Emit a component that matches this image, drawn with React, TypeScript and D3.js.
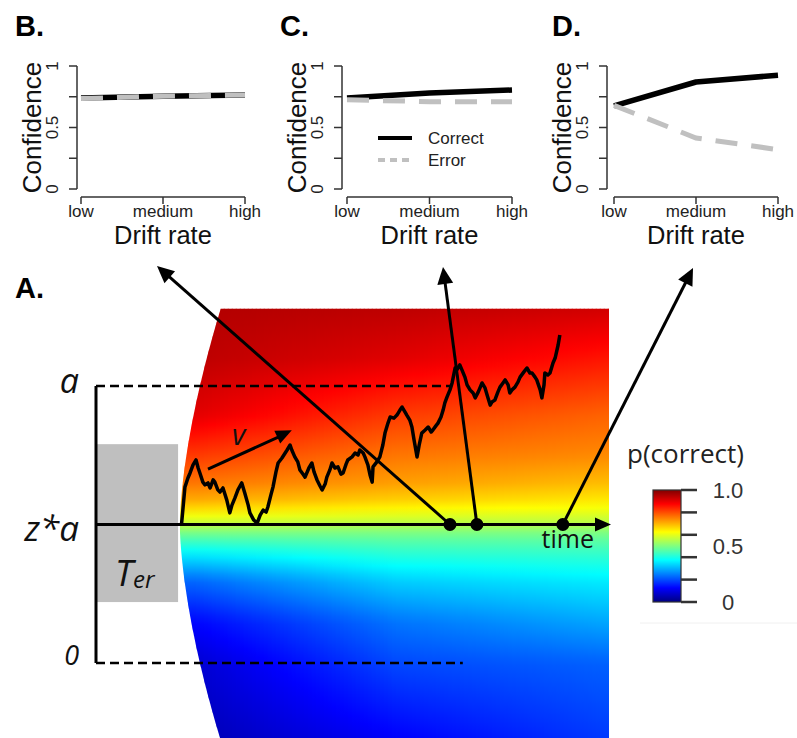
import React from 'react';
import * as d3 from 'd3';

// ---------------- Panels B–D ----------------
const driftLevels = ['low', 'medium', 'high'];
const panelNames = ['B.', 'C.', 'D.'];
const correctB = [0.74, 0.755, 0.765];
const errorB = [0.735, 0.755, 0.765];
const correctC = [0.74, 0.78, 0.805];
const errorC = [0.725, 0.71, 0.71];
const correctD = [0.675, 0.87, 0.925];
const errorD = [0.68, 0.415, 0.32];
const confTicks = [0, 0.25, 0.5, 0.75, 1];
const confTickLabels = ['0', '', '0.5', '', '1'];
const legendLabels = ['Correct', 'Error'];

// ---------------- Panel A ----------------
// time in ms, evidence in % of boundary a
const trajT = [200, 208, 215, 220, 227, 234, 239, 243, 250, 255, 262, 267, 274, 278, 285, 290, 297, 306, 313, 318, 325, 332, 341, 348, 356, 360, 369, 377, 384, 391, 398, 402, 409, 414, 421, 426, 435, 447, 454, 458, 465, 472, 477, 484, 489, 498, 505, 510, 517, 524, 529, 536, 540, 547, 552, 559, 566, 573, 578, 585, 589, 599, 606, 613, 617, 625, 629, 636, 641, 646, 648, 657, 664, 671, 676, 683, 688, 697, 704, 711, 716, 723, 727, 734, 739, 744, 751, 756, 762, 770, 777, 784, 788, 795, 800, 807, 812, 816, 821, 828, 833, 840, 844, 851, 856, 863, 868, 875, 882, 887, 894, 903, 910, 917, 922, 926, 933, 940, 945, 952, 957, 964, 968, 973, 980, 987, 992, 1001, 1008, 1015, 1020, 1027, 1031, 1039, 1043, 1048, 1050, 1057, 1062, 1069, 1074, 1081, 1085];
const trajEv = [50, 63.5, 66.8, 68.6, 71.5, 73.3, 70.4, 68.6, 65.3, 64.3, 65, 63.2, 66.1, 65.3, 62.5, 61.7, 63.2, 58.8, 54.2, 57, 59.6, 62.5, 65, 61.4, 57, 54.2, 51.6, 50.5, 53.4, 55.2, 54.5, 56.3, 60.6, 63.5, 69, 72.2, 74, 76.9, 78.7, 76.9, 74.4, 72.6, 69.7, 68.2, 67.1, 70.4, 72.2, 69, 66.1, 63.9, 62.5, 64.6, 67.1, 69.7, 72.2, 70.4, 70.8, 68.2, 68.6, 71.8, 73.3, 74.4, 75.8, 75.1, 76.9, 75.8, 74.4, 71.5, 67.9, 65.3, 70.8, 72.6, 74.4, 78.7, 83, 86.6, 88.8, 88.4, 89.5, 91.3, 92.4, 90.6, 89.5, 87.7, 85.2, 80.5, 74.4, 78.7, 83, 84.1, 85.2, 83.4, 84.1, 85.6, 86.6, 88.8, 91.3, 93.9, 96, 98.6, 101.1, 106.5, 105.8, 107.6, 105.8, 103.2, 100.4, 98.6, 97.5, 95.7, 97.8, 101.1, 99.3, 95.7, 93.1, 94.2, 94.9, 97.8, 99.6, 101.1, 102.2, 100.4, 97.5, 98.6, 99.6, 101.4, 103.2, 105.1, 106.5, 104.7, 104.7, 103.2, 102.2, 98.6, 95.7, 100.4, 104.7, 104, 104.7, 108.3, 110.1, 114.8, 118.4];
const rtT = [828, 891, 1092];
const boundEv = [100, 50, 0];
const boundLabels = ['a', 'z*a', '0'];
const terMs = 196;
const heatEv = [128, 110, 90, 75, 65, 58, 50, 46, 40, 30, 15, 0, -28];
const heatProfileT = [230, 700, 1200];
const heatEarly = [0.95, 0.94, 0.905, 0.82, 0.76, 0.7, 0.56, 0.47, 0.37, 0.23, 0.13, 0.08, 0.05];
const heatMid = [0.94, 0.905, 0.82, 0.76, 0.72, 0.665, 0.55, 0.48, 0.42, 0.33, 0.24, 0.195, 0.12];
const heatLate = [0.92, 0.855, 0.78, 0.74, 0.69, 0.64, 0.55, 0.48, 0.43, 0.36, 0.29, 0.22, 0.18];
const colorbarTicks = [0, 0.2, 0.4, 0.6, 0.8, 1];
const colorbarLabelValues = [1, 0.5, 0];
const colorbarLabelText = ['1.0', '0.5', '0'];

function jet(v: number) {
  const c = (x: number) => Math.max(0, Math.min(1, x));
  const r = c(1.5 - Math.abs(4 * v - 3));
  const g = c(1.5 - Math.abs(4 * v - 2));
  const b = c(1.5 - Math.abs(4 * v - 1));
  return d3.rgb(r * 255, g * 255, b * 255).formatHex();
}

function arrowHead(x1: number, y1: number, x2: number, y2: number, len = 16, hw = 7) {
  const a = Math.atan2(y2 - y1, x2 - x1);
  const bx = x2 - len * Math.cos(a), by = y2 - len * Math.sin(a);
  const px = -Math.sin(a) * hw, py = Math.cos(a) * hw;
  return `M${x2},${y2}L${bx + px},${by + py}L${bx - px},${by - py}Z`;
}

const ARIAL = 'Liberation Sans, Arial, sans-serif';
const SANS = 'Open Sans, sans-serif';

function ConfPanel({ idx, axisX, xr, correct, error, legend }: any) {
  const x = d3.scalePoint<string>().domain(driftLevels).range(xr);
  const y = d3.scaleLinear().domain([0, 1]).range([189, 66]);
  const line = d3.line<number>().x((_, i) => x(driftLevels[i])!).y((d) => y(d));
  const xAxisY = 197;
  const labelX = [15, 280, 552][idx];
  return (
    <g>
      <text x={labelX} y={36} fontFamily={ARIAL} fontWeight="bold" fontSize={29}>{panelNames[idx]}</text>
      <line x1={axisX} x2={axisX} y1={y(0)} y2={y(1)} stroke="#333" strokeWidth={1.5} />
      {confTicks.map((t, i) => (
        <g key={i}>
          <line x1={axisX - 8} x2={axisX} y1={y(t)} y2={y(t)} stroke="#333" strokeWidth={1.5} />
          {confTickLabels[i] && (
            <text transform={`translate(${axisX - 19},${y(t)}) rotate(-90)`} textAnchor="middle" fontFamily={ARIAL} fontSize={17} fill="#222">{confTickLabels[i]}</text>
          )}
        </g>
      ))}
      <line x1={xr[0]} x2={xr[1]} y1={xAxisY} y2={xAxisY} stroke="#333" strokeWidth={1.5} />
      {driftLevels.map((d) => (
        <g key={d}>
          <line x1={x(d)} x2={x(d)} y1={xAxisY} y2={xAxisY + 7} stroke="#333" strokeWidth={1.5} />
          <text x={x(d)} y={216.5} textAnchor="middle" fontFamily={ARIAL} fontSize={17} fill="#222">{d}</text>
        </g>
      ))}
      <text x={x('medium')} y={243.5} textAnchor="middle" fontFamily={ARIAL} fontSize={25.5} fill="#111">Drift rate</text>
      <text transform={`translate(${axisX - 36},127.5) rotate(-90)`} textAnchor="middle" fontFamily={ARIAL} fontSize={26} fill="#111">Confidence</text>
      <path d={line(correct)!} fill="none" stroke="#000" strokeWidth={5.5} strokeLinejoin="round" />
      <path d={line(error)!} fill="none" stroke="#c0c0c0" strokeWidth={5} strokeDasharray="22 14" />
      {legend && (
        <g>
          <line x1={378} x2={412} y1={138} y2={138} stroke="#000" strokeWidth={4} />
          <line x1={378} x2={412} y1={160} y2={160} stroke="#c0c0c0" strokeWidth={4} strokeDasharray="7 5" />
          <text x={428} y={138} dy="0.35em" fontFamily={ARIAL} fontSize={17} fill="#222">{legendLabels[0]}</text>
          <text x={428} y={160} dy="0.35em" fontFamily={ARIAL} fontSize={17} fill="#222">{legendLabels[1]}</text>
        </g>
      )}
    </g>
  );
}

export default function App() {
  const xT = d3.scaleLinear().domain([0, 1200]).range([96, 609]);
  const yEv = d3.scaleLinear().domain([0, 100]).range([663, 386]);
  const zY = yEv(50);

  // heatmap
  const profiles = [heatEarly, heatMid, heatLate].map((p) => d3.scaleLinear().domain(heatEv).range(p).clamp(true));
  const pCorrect = (t: number, ev: number) =>
    d3.scaleLinear().domain(heatProfileT).range(profiles.map((s) => s(ev))).clamp(true)(t);
  const evTop = 128, evBot = -28;
  const yTop = yEv(evTop), yBot = yEv(evBot);
  const evSamples = d3.range(evTop, evBot - 0.01, -3);
  const colX = d3.range(xT(terMs), xT(1200), 4);
  const columns = colX.map((x) => {
    const t = xT.invert(x + 2);
    return {
      x,
      stops: evSamples.map((ev) => ({ o: (evTop - ev) / (evTop - evBot), c: jet(pCorrect(t, ev)) })),
    };
  });
  const leftEdge = (ev: number) => terMs + 94 * Math.pow(Math.abs(ev - 50) / 77, 1.6);
  const edgeEv = d3.range(evTop, evBot - 0.01, -1);
  const clipD =
    'M' + edgeEv.map((ev) => `${xT(leftEdge(ev))},${yEv(ev)}`).join('L') +
    `L${xT(1200)},${yEv(evBot)}L${xT(1200)},${yEv(evTop)}Z`;

  const traj = d3.line<number>().x((t) => xT(t)).y((_, i) => yEv(trajEv[i]));

  const tips = [[157, 266], [443, 267], [693, 268]];
  const cb = d3.scaleLinear().domain([0, 1]).range([602, 490]);
  const jetStops = d3.range(0, 1.0001, 0.125);

  return (
    <svg width={797} height={738} style={{ position: 'absolute', left: 0, top: 0, background: '#fff' }}>
      <defs>
        {columns.map((c, i) => (
          <linearGradient key={i} id={`hg${i}`} gradientUnits="userSpaceOnUse" x1={0} x2={0} y1={yTop} y2={yBot}>
            {c.stops.map((s, j) => <stop key={j} offset={s.o} stopColor={s.c} />)}
          </linearGradient>
        ))}
        <linearGradient id="cbg" x1={0} x2={0} y1={1} y2={0}>
          {jetStops.map((v, j) => <stop key={j} offset={v} stopColor={jet(v)} />)}
        </linearGradient>
        <clipPath id="heatClip"><path d={clipD} /></clipPath>
      </defs>

      <ConfPanel idx={0} axisX={77} xr={[81, 245]} correct={correctB} error={errorB} />
      <ConfPanel idx={1} axisX={342} xr={[347, 512]} correct={correctC} error={errorC} legend />
      <ConfPanel idx={2} axisX={607} xr={[614, 778]} correct={correctD} error={errorD} />

      <text x={15} y={298} fontFamily={ARIAL} fontWeight="bold" fontSize={29}>A.</text>

      {/* heatmap */}
      <g clipPath="url(#heatClip)">
        {columns.map((c, i) => (
          <rect key={i} x={c.x} y={yTop} width={4.8} height={yBot - yTop} fill={`url(#hg${i})`} />
        ))}
      </g>

      {/* Ter box */}
      <rect x={xT(2)} y={yEv(79)} width={xT(192) - xT(2)} height={yEv(22) - yEv(79)} fill="#bfbfbf" />
      <text x={115} y={586} fontFamily={SANS} fontStyle="italic" fontSize={36} fill="#111">T</text>
      <text x={133} y={588} fontFamily={SANS} fontStyle="italic" fontSize={24} fill="#111">er</text>

      {/* bounds */}
      <line x1={xT(0)} x2={xT(0)} y1={yEv(100)} y2={yEv(0)} stroke="#000" strokeWidth={3} />
      <line x1={xT(0)} x2={xT(828)} y1={yEv(100)} y2={yEv(100)} stroke="#000" strokeWidth={2.5} strokeDasharray="9 5" />
      <line x1={xT(0)} x2={xT(858)} y1={yEv(0)} y2={yEv(0)} stroke="#000" strokeWidth={2.5} strokeDasharray="9 5" />
      {boundEv.map((b, i) => (
        <text key={i} x={79} y={[393, 541, 665][i]} textAnchor="end" fontFamily={SANS} fontStyle="italic" fontSize={[34, 35, 27][i]} fill="#111">{boundLabels[i]}</text>
      ))}

      {/* time axis */}
      <line x1={xT(0)} x2={600} y1={zY} y2={zY} stroke="#000" strokeWidth={3} />
      <path d={arrowHead(xT(0), zY, 611, zY, 16, 7)} fill="#000" />
      <text x={594} y={548} textAnchor="end" fontFamily={SANS} fontSize={25} fill="#111">time</text>

      {/* trajectory */}
      <path d={traj(trajT)!} fill="none" stroke="#000" strokeWidth={3.5} strokeLinejoin="round" />

      {/* drift arrow */}
      <line x1={xT(262)} y1={yEv(70)} x2={xT(447)} y2={yEv(83)} stroke="#000" strokeWidth={3} />
      <path d={arrowHead(xT(262), yEv(70), xT(458), yEv(84), 16, 7)} fill="#000" />
      <text x={232} y={445} fontFamily={SANS} fontStyle="italic" fontSize={29} fill="#111">v</text>

      {/* RT arrows to panels */}
      {rtT.map((t, i) => {
        const x0 = xT(t);
        const [tx, ty] = tips[i];
        const a = Math.atan2(ty - zY, tx - x0);
        return (
          <g key={i}>
            <line x1={x0} y1={zY} x2={tx - 12 * Math.cos(a)} y2={ty - 12 * Math.sin(a)} stroke="#000" strokeWidth={3} />
            <path d={arrowHead(x0, zY, tx, ty, 17, 8)} fill="#000" />
            <circle cx={x0} cy={zY} r={6.5} fill="#000" />
          </g>
        );
      })}

      {/* colorbar */}
      <text x={627} y={463} fontFamily={SANS} fontSize={26} fill="#222">p(correct)</text>
      <rect x={653} y={cb(1)} width={28} height={cb(0) - cb(1)} fill="url(#cbg)" stroke="#333" strokeWidth={1.2} />
      {colorbarTicks.map((v, i) => (
        <line key={i} x1={681} x2={697} y1={cb(v)} y2={cb(v)} stroke="#333" strokeWidth={2.5} />
      ))}
      {colorbarLabelValues.map((v, i) => (
        <text key={i} x={728} y={cb(v)} dy="0.35em" textAnchor="middle" fontFamily={ARIAL} fontSize={22} fill="#333">{colorbarLabelText[i]}</text>
      ))}
      <line x1={640} x2={797} y1={623} y2={623} stroke="#f0f0f0" strokeWidth={1} />
    </svg>
  );
}
